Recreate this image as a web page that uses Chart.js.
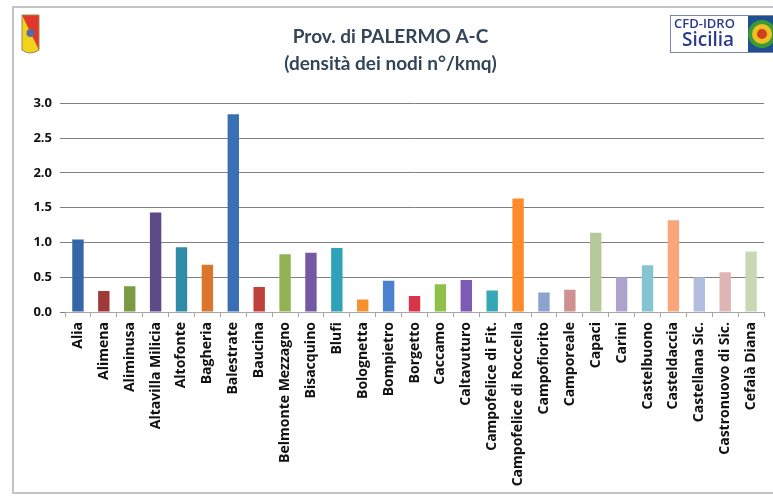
<!DOCTYPE html>
<html>
<head>
<meta charset="utf-8">
<script src="https://cdn.jsdelivr.net/npm/chart.js@4"></script>
<style>
  html, body { margin: 0; padding: 0; background: #ffffff; }
  #wrap { width: 773px; height: 500px; position: relative; }
</style>
</head>
<body>
<div id="wrap"><canvas id="densityChart"></canvas></div>
<script>
// Comuni (A-C) della provincia di Palermo
const comuni = [
    'Alia', 'Alimena', 'Aliminusa', 'Altavilla Milicia', 'Altofonte', 'Bagheria',
    'Balestrate', 'Baucina', 'Belmonte Mezzagno', 'Bisacquino', 'Blufi', 'Bolognetta',
    'Bompietro', 'Borgetto', 'Caccamo', 'Caltavuturo', 'Campofelice di Fit.',
    'Campofelice di Roccella', 'Campofiorito', 'Camporeale', 'Capaci', 'Carini',
    'Castelbuono', 'Casteldaccia', 'Castellana Sic.', 'Castronuovo di Sic.', 'Cefalà Diana'
];

// densità dei nodi (n°/kmq)
const densita = [
    1.04, 0.30, 0.37, 1.43, 0.93, 0.68,
    2.84, 0.36, 0.83, 0.85, 0.92, 0.18,
    0.45, 0.23, 0.40, 0.46, 0.31,
    1.63, 0.28, 0.32, 1.14, 0.50,
    0.67, 1.32, 0.50, 0.57, 0.87
];

const barColors = [
    '#3566a8', '#9e3b38', '#7a9a43', '#5e4a87', '#2f8ba6', '#d9762b',
    '#3a6fb5', '#c0403c', '#93b352', '#7458a3', '#2fa2b8', '#f7912e',
    '#4a82d0', '#d9344a', '#8fc04a', '#7d5ab5', '#36a8b5',
    '#ff8a2a', '#8ca3d2', '#cf9090', '#b5c99a', '#ada2cc',
    '#86c4cf', '#f8a77a', '#b3bedf', '#ddb5b5', '#c9d7b4'
];

const yTicks = [0, 0.5, 1.0, 1.5, 2.0, 2.5, 3.0];

const titleLines = ['Prov. di PALERMO A-C', '(densità dei nodi n°/kmq)'];

// frame + logos
const decorPlugin = {
    id: 'decor',
    beforeDraw(chart) {
        const ctx = chart.ctx;
        ctx.save();
        ctx.fillStyle = '#ffffff';
        ctx.fillRect(0, 0, chart.width, chart.height);
        ctx.strokeStyle = '#c4c4c4';
        ctx.lineWidth = 2;
        ctx.strokeRect(13, 7, 772, 486);
        ctx.restore();
    },
    afterDraw(chart) {
        const ctx = chart.ctx;
        ctx.save();
        // stemma regione (left)
        ctx.beginPath();
        ctx.moveTo(22, 15);
        ctx.lineTo(39, 15);
        ctx.lineTo(39, 50);
        ctx.quadraticCurveTo(30, 56, 22, 50);
        ctx.closePath();
        ctx.fillStyle = '#f2d21b';
        ctx.fill();
        ctx.beginPath();
        ctx.moveTo(22, 15);
        ctx.lineTo(39, 15);
        ctx.lineTo(39, 50);
        ctx.closePath();
        ctx.fillStyle = '#e0372b';
        ctx.fill();
        ctx.strokeStyle = '#9a8a50';
        ctx.lineWidth = 1;
        ctx.beginPath();
        ctx.moveTo(22, 15);
        ctx.lineTo(39, 15);
        ctx.lineTo(39, 50);
        ctx.quadraticCurveTo(30, 56, 22, 50);
        ctx.closePath();
        ctx.stroke();
        ctx.fillStyle = '#5a6aa0';
        ctx.beginPath();
        ctx.arc(30.5, 33, 4, 0, Math.PI * 2);
        ctx.fill();

        // CFD-IDRO Sicilia (right)
        ctx.fillStyle = '#ffffff';
        ctx.fillRect(670, 15, 103, 38);
        ctx.strokeStyle = '#7a86a8';
        ctx.lineWidth = 1;
        ctx.strokeRect(670.5, 15.5, 110, 37);
        ctx.fillStyle = '#2a3a8c';
        ctx.textAlign = 'left';
        ctx.textBaseline = 'middle';
        ctx.font = '600 13px "Open Sans", sans-serif';
        ctx.fillText('CFD-IDRO', 674, 24);
        ctx.font = '600 19px "Open Sans", sans-serif';
        ctx.fillText('Sicilia', 682, 41);
        ctx.fillStyle = '#1f4f8f';
        ctx.fillRect(748, 16, 25, 36);
        ctx.beginPath();
        ctx.arc(762, 34, 14, 0, Math.PI * 2);
        ctx.fillStyle = '#3a9a3a';
        ctx.fill();
        ctx.beginPath();
        ctx.arc(762, 34, 10, 0, Math.PI * 2);
        ctx.fillStyle = '#f0c020';
        ctx.fill();
        ctx.beginPath();
        ctx.arc(762, 34, 5, 0, Math.PI * 2);
        ctx.fillStyle = '#d04020';
        ctx.fill();
        ctx.restore();
    }
};

const ctx = document.getElementById('densityChart').getContext('2d');
const densityChart = new Chart(ctx, {
    type: 'bar',
    data: {
        labels: comuni,
        datasets: [{
            label: 'densità dei nodi',
            data: densita,
            backgroundColor: barColors,
            borderWidth: 0,
            barPercentage: 0.44,
            categoryPercentage: 1.0
        }]
    },
    options: {
        responsive: true,
        maintainAspectRatio: false,
        animation: false,
        layout: {
            padding: { top: 24, left: 14, right: 6, bottom: 0 }
        },
        plugins: {
            legend: { display: false },
            tooltip: { enabled: false },
            title: {
                display: true,
                text: titleLines,
                color: '#34455a',
                font: { family: 'Lato, "Open Sans", sans-serif', size: 19, weight: 'bold', lineHeight: 1.4 },
                padding: { top: 0, bottom: 26 }
            }
        },
        scales: {
            x: {
                grid: {
                    display: true,
                    drawOnChartArea: false,
                    drawTicks: true,
                    tickLength: 5,
                    color: '#a6a6a6',
                    offset: true
                },
                border: { color: '#a6a6a6' },
                ticks: {
                    autoSkip: false,
                    maxRotation: 90,
                    minRotation: 90,
                    padding: 5,
                    color: '#111111',
                    font: { family: '"Open Sans", sans-serif', size: 14, weight: 'bold' }
                },
                afterFit(scale) { scale.height = 188; }
            },
            y: {
                min: 0,
                max: 3,
                afterBuildTicks(scale) {
                    scale.ticks = yTicks.map(v => ({ value: v }));
                },
                grid: {
                    color: '#7f7f7f',
                    tickLength: 5,
                    lineWidth: 1
                },
                border: { display: false },
                ticks: {
                    padding: 8,
                    color: '#111111',
                    font: { family: '"Open Sans", sans-serif', size: 13, weight: 'bold' },
                    callback: function(value) {
                        return value.toFixed(1);
                    }
                },
                afterFit(scale) { scale.width = 51; }
            }
        }
    },
    plugins: [decorPlugin]
});
</script>
</body>
</html>
